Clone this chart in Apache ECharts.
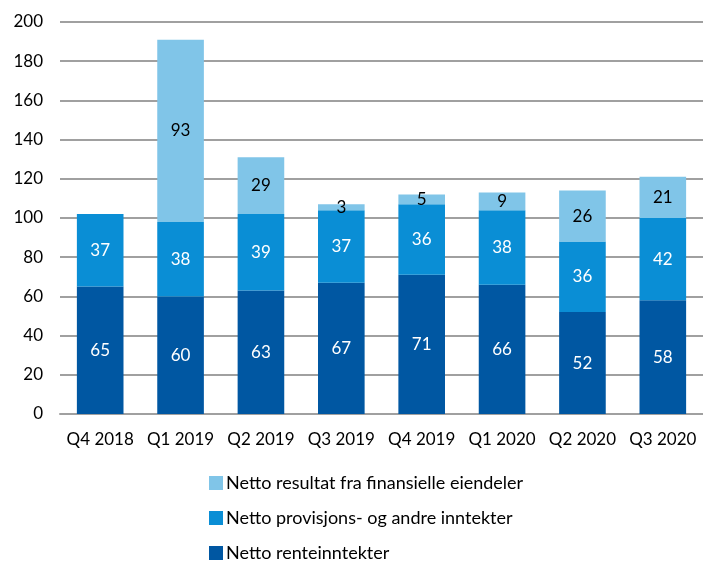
<!DOCTYPE html>
<html><head><meta charset="utf-8">
<script src="https://cdn.jsdelivr.net/npm/echarts@6/dist/echarts.min.js"></script>
<style>html,body{margin:0;padding:0;background:#fff}#c{width:703px;height:562px}</style>
</head><body><div id="c"></div>
<script>
const categories = ['Q4 2018','Q1 2019','Q2 2019','Q3 2019','Q4 2019','Q1 2020','Q2 2020','Q3 2020'];
const renteinntekter = [65,60,63,67,71,66,52,58];
const provisjon = [37,38,39,37,36,38,36,42];
const finansielle = [null,93,29,3,5,9,26,21];
const seriesNames = ['Netto renteinntekter','Netto provisjons- og andre inntekter','Netto resultat fra finansielle eiendeler'];
const yTicks = {min:0,max:200,interval:20};

const font = 'Lato, "Open Sans", sans-serif';
const chart = echarts.init(document.getElementById('c'));
function s(name, data, color, labelColor){
  return {name, type:'bar', stack:'t', data, barWidth:'58%',
    itemStyle:{color},
    label:{show:true, position:'inside', color:labelColor, fontSize:17, fontFamily:font,
      formatter:p=> p.value==null?'':p.value}};
}
chart.setOption({
  animation:false,
  grid:{left:60,right:0,top:22,bottom:148,containLabel:false},
  xAxis:{type:'category',data:categories,
    axisLine:{lineStyle:{color:'#a0a0a0',width:2}},axisTick:{show:false},
    axisLabel:{color:'#000',fontSize:17,fontFamily:font,margin:17,interval:0}},
  yAxis:{type:'value',min:yTicks.min,max:yTicks.max,interval:yTicks.interval,
    axisLine:{show:false},axisTick:{show:false},
    splitLine:{lineStyle:{color:'#a0a0a0',width:2}},
    axisLabel:{color:'#000',fontSize:17,fontFamily:font,margin:17}},
  legend:{orient:'vertical',left:204,top:469,height:120,itemGap:17,itemWidth:14,itemHeight:14,
    icon:'rect',itemStyle:{borderWidth:0},
    data:[seriesNames[2],seriesNames[1],seriesNames[0]],
    textStyle:{color:'#000',fontSize:18,fontFamily:font,padding:[0,0,0,-2]}},
  series:[
    s(seriesNames[0],renteinntekter,'#0057a2','#fff'),
    s(seriesNames[1],provisjon,'#0a8ed5','#fff'),
    s(seriesNames[2],finansielle,'#80c5e8','#000')
  ]
});
</script></body></html>
